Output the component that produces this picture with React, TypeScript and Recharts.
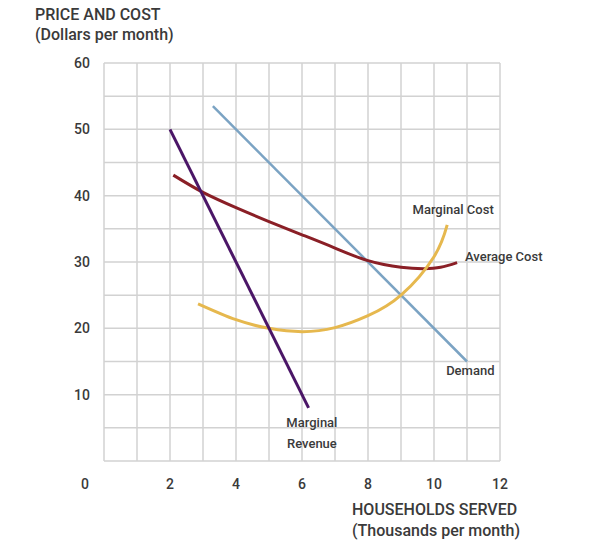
import { CartesianGrid, Line, LineChart, ReferenceDot, XAxis, YAxis } from 'recharts';

// households served (thousands) -> dollars per month
const demand = [
  { q: 3.3, p: 53.5 },
  { q: 11, p: 15 },
];
const marginalRevenue = [
  { q: 2, p: 50 },
  { q: 6.2, p: 8 },
];
const averageCost = [
  { q: 2.1, p: 43.1 },
  { q: 3, p: 40.5 },
  { q: 4, p: 38.2 },
  { q: 5, p: 36.1 },
  { q: 6, p: 34.1 },
  { q: 7, p: 32.1 },
  { q: 8, p: 30.2 },
  { q: 9, p: 29.2 },
  { q: 9.7, p: 29 },
  { q: 10.2, p: 29.2 },
  { q: 10.7, p: 29.9 },
];
const marginalCost = [
  { q: 2.85, p: 23.7 },
  { q: 4, p: 21.3 },
  { q: 5, p: 20 },
  { q: 6, p: 19.5 },
  { q: 7, p: 20.1 },
  { q: 8, p: 21.9 },
  { q: 9, p: 25 },
  { q: 10, p: 30.8 },
  { q: 10.4, p: 35.6 },
];
const xTicks = [0, 1, 2, 3, 4, 5, 6, 7, 8, 9, 10, 11, 12];
const yTicks = [0, 5, 10, 15, 20, 25, 30, 35, 40, 45, 50, 55, 60];
const curveLabels = [
  { q: 10.58, p: 37.9, text: 'Marginal Cost', anchor: 'middle' },
  { q: 10.94, p: 30.8, text: 'Average Cost', anchor: 'start' },
  { q: 11.1, p: 13.6, text: 'Demand', anchor: 'middle' },
  { q: 6.3, p: 5.7, text: 'Marginal', anchor: 'middle' },
  { q: 6.3, p: 2.6, text: 'Revenue', anchor: 'middle' },
];

const font = 'Roboto, sans-serif';
const textColor = '#3a3a3a';

const XTick = ({ x, y, payload }: any) => {
  if (payload.value % 2 !== 0) return <g />;
  const shift = payload.value === 0 ? -19 : 0;
  return (
    <text x={x + shift} y={y + 26} textAnchor="middle" fontSize={14} fontWeight={500} fill={textColor} fontFamily={font}>
      {payload.value}
    </text>
  );
};

const YTick = ({ x, y, payload }: any) => {
  if (payload.value === 0 || payload.value % 10 !== 0) return <g />;
  return (
    <text x={x} y={y + 5} textAnchor="end" fontSize={14} fontWeight={500} fill={textColor} fontFamily={font}>
      {payload.value}
    </text>
  );
};

const App = () => {
  return (
    <div style={{ position: 'absolute', left: 0, top: 0, width: 607, height: 540, background: '#fff', fontFamily: font, color: textColor }}>
      <div style={{ position: 'absolute', left: 35, top: 5, fontSize: 16, fontWeight: 500, lineHeight: '20px' }}>
        PRICE AND COST
        <br />
        (Dollars per month)
      </div>
      <div style={{ position: 'absolute', left: 352, top: 499, fontSize: 16, fontWeight: 500, lineHeight: '21px' }}>
        HOUSEHOLDS SERVED
        <br />
        (Thousands per month)
      </div>
      <LineChart width={607} height={540} margin={{ top: 63, right: 107, bottom: 49, left: 74 }}>
        <CartesianGrid stroke="#d2d2d2" strokeWidth={1.5} />
        <XAxis
          type="number"
          dataKey="q"
          domain={[0, 12]}
          ticks={xTicks}
          interval={0}
          height={30}
          axisLine={false}
          tickLine={false}
          tickSize={0}
          tick={<XTick />}
        />
        <YAxis
          type="number"
          domain={[0, 60]}
          ticks={yTicks}
          interval={0}
          width={30}
          axisLine={false}
          tickLine={false}
          tickSize={0}
          tickMargin={14}
          tick={<YTick />}
        />
        <Line data={demand} dataKey="p" type="linear" stroke="#7ba3c3" strokeWidth={2.5} dot={false} isAnimationActive={false} />
        <Line data={averageCost} dataKey="p" type="natural" stroke="#8a1f26" strokeWidth={3} dot={false} isAnimationActive={false} />
        <Line data={marginalCost} dataKey="p" type="natural" stroke="#e6b84e" strokeWidth={3} dot={false} isAnimationActive={false} />
        <Line data={marginalRevenue} dataKey="p" type="linear" stroke="#4b1667" strokeWidth={3} dot={false} isAnimationActive={false} />
        {curveLabels.map((l) => (
          <ReferenceDot
            key={l.text}
            x={l.q}
            y={l.p}
            r={0}
            ifOverflow="visible"
            shape={(props: any) => (
              <text x={props.cx} y={props.cy + 4} textAnchor={l.anchor} fontSize={13} fontWeight={500} fill={textColor} fontFamily={font}>
                {l.text}
              </text>
            )}
          />
        ))}
      </LineChart>
    </div>
  );
};

export default App;
